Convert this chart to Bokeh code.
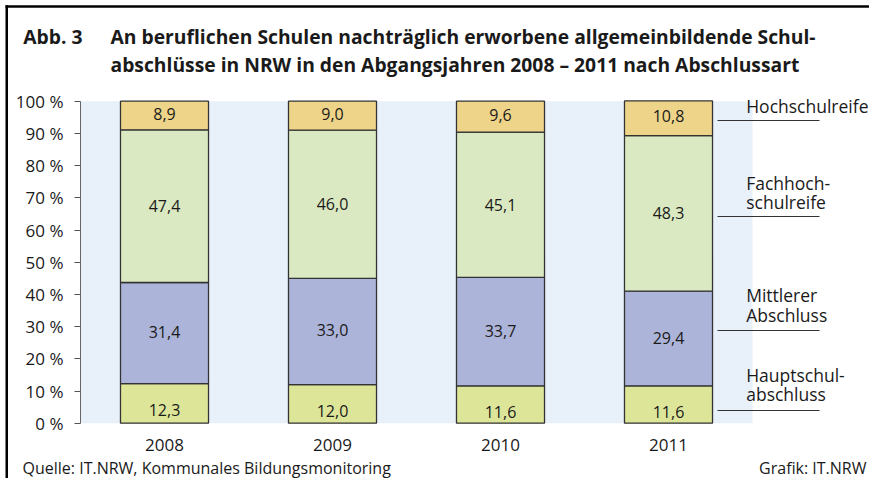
from bokeh.plotting import figure
from bokeh.models import (Range1d, Label, BoxAnnotation, Arrow,
                          ColumnDataSource, FixedTicker)
from bokeh.core.properties import value
from bokeh.embed import file_html
from bokeh.resources import INLINE

# ---------------- data ----------------
years = ["2008", "2009", "2010", "2011"]
series_names = ["Hauptschulabschluss", "Mittlerer Abschluss",
                "Fachhochschulreife", "Hochschulreife"]
hauptschul = [12.3, 12.0, 11.6, 11.6]
mittlerer = [31.4, 33.0, 33.7, 29.4]
fachhoch = [47.4, 46.0, 45.1, 48.3]
hochschul = [8.9, 9.0, 9.6, 10.8]
y_ticks = [0, 10, 20, 30, 40, 50, 60, 70, 80, 90, 100]
y_tick_labels = ["0 %", "10 %", "20 %", "30 %", "40 %", "50 %",
                 "60 %", "70 %", "80 %", "90 %", "100 %"]
legend_texts = [["Hochschulreife"], ["Fachhoch-", "schulreife"],
                ["Mittlerer", "Abschluss"], ["Hauptschul-", "abschluss"]]
title_number = "Abb. 3"
title_lines = ["An beruflichen Schulen nachträglich erworbene allgemeinbildende Schul-",
               "abschlüsse in NRW in den Abgangsjahren 2008 – 2011 nach Abschlussart"]
source_text = "Quelle: IT.NRW, Kommunales Bildungsmonitoring"
credit_text = "Grafik: IT.NRW"

# ---------------- layout / style (pixels) ----------------
FONT = "Open Sans"
TXT = "#1a1a1a"
colors = ["#DDE599", "#ADB4D9", "#DAE9C1", "#EED489"]
W, H = 869, 478
X0_PX, STEP_PX = 80.0, 168.0        # canvas x of first category edge, px per category
Y0_PX, YSCALE = 422.7, 3.22         # canvas y of 0 %, px per percent
BAR_W = 0.524
BASE_K = 0.38                       # label baseline correction (fraction of font size)

n = len(years)
xs = [i + 0.5 for i in range(n)]

p = figure(width=W, height=H,
           x_range=Range1d(-X0_PX / STEP_PX, (W - X0_PX) / STEP_PX),
           y_range=Range1d(-(H - Y0_PX) / YSCALE, Y0_PX / YSCALE),
           output_backend="svg", toolbar_location=None, title=None,
           min_border=0, min_border_left=0, min_border_right=0,
           min_border_top=0, min_border_bottom=0)
p.background_fill_color = "white"
p.border_fill_color = "white"
p.outline_line_color = None
p.xgrid.visible = False
p.ygrid.visible = False

# plot-area background
p.add_layout(BoxAnnotation(left=0, right=n, bottom=0, top=100, level="underlay",
                           fill_color="#E8F0FA", fill_alpha=1, line_color=None))

values = [hauptschul, mittlerer, fachhoch, hochschul]
data = {"x": xs}
for name, vals in zip(series_names, values):
    data[name] = vals
source = ColumnDataSource(data)
p.vbar_stack(series_names, x="x", width=BAR_W, color=colors, source=source,
             line_color="#333333", line_width=1.3)

# value labels
offsets = [7, -1, 0, -2]
bottoms = [0.0] * n
for vals, off in zip(values, offsets):
    mids = [b + v / 2 for b, v in zip(bottoms, vals)]
    p.text(x=xs, y=mids, text=[f"{v:.1f}".replace(".", ",") for v in vals],
           text_align="center", text_baseline="middle", y_offset=off,
           text_font=value(FONT), text_font_size="16px", text_color=TXT)
    bottoms = [b + v for b, v in zip(bottoms, vals)]

# axes (drawn at fixed data locations inside the canvas)
ya = p.yaxis[0]
ya.fixed_location = 0
ya.bounds = (0, 100)
ya.ticker = FixedTicker(ticks=y_ticks)
ya.major_label_overrides = {t: l for t, l in zip(y_ticks, y_tick_labels)}
ya.minor_tick_line_color = None
ya.major_tick_out = 6
ya.major_tick_in = 0
ya.major_tick_line_color = "#555555"
ya.axis_line_color = "#666666"
ya.major_label_standoff = 11
ya.major_label_text_font = FONT
ya.major_label_text_font_size = "17px"
ya.major_label_text_color = TXT

xa = p.xaxis[0]
xa.fixed_location = 0
xa.bounds = (0, n)
xa.ticker = FixedTicker(ticks=xs)
xa.major_label_overrides = {x: y for x, y in zip(xs, years)}
xa.axis_line_color = None
xa.major_tick_line_color = None
xa.minor_tick_line_color = None
xa.major_tick_out = 0
xa.major_label_standoff = 16
xa.major_label_text_font = FONT
xa.major_label_text_font_size = "17px"
xa.major_label_text_color = TXT


# helpers: canvas px (y down) -> screen units (y up)
def sy(cy):
    return H - cy


def canvas_label(text, cx, baseline, size_px, bold=False, align="left"):
    p.add_layout(Label(x=cx, y=sy(baseline - BASE_K * size_px),
                       x_units="screen", y_units="screen",
                       text=text, text_font=FONT, text_font_size=f"{size_px}px",
                       text_font_style="bold" if bold else "normal",
                       text_color=TXT, text_align=align, text_baseline="alphabetic"))


def screen_box(left, right, top, bottom):
    p.add_layout(BoxAnnotation(left=left, right=right, top=sy(top), bottom=sy(bottom),
                               left_units="screen", right_units="screen",
                               top_units="screen", bottom_units="screen",
                               fill_color="black", fill_alpha=1, line_color=None))


# frame lines (top and left)
screen_box(5, W, 4.8, 7.3)
screen_box(5, 7.5, 4.8, H)

# title
canvas_label(title_number, 22.7, 43, 19.3, bold=True)
canvas_label(title_lines[0], 110, 43, 19.3, bold=True)
canvas_label(title_lines[1], 110, 71.5, 19.3, bold=True)

# legend
legend_baselines = [[112.5], [189.5, 208.5], [301, 321], [381.5, 400.5]]
leader_y = [120, 216, 330, 410]
for lines, bls, ly in zip(legend_texts, legend_baselines, leader_y):
    for t, b in zip(lines, bls):
        canvas_label(t, 745.7, b, 17.5)
    p.add_layout(Arrow(end=None, x_start=717, y_start=sy(ly), x_end=819, y_end=sy(ly),
                       start_units="screen", end_units="screen",
                       line_color="#333333", line_width=1.2))

# footer
canvas_label(source_text, 22, 473.5, 16)
canvas_label(credit_text, 866, 473.5, 16, align="right")

open("out.html", "w").write(file_html(p, INLINE))
